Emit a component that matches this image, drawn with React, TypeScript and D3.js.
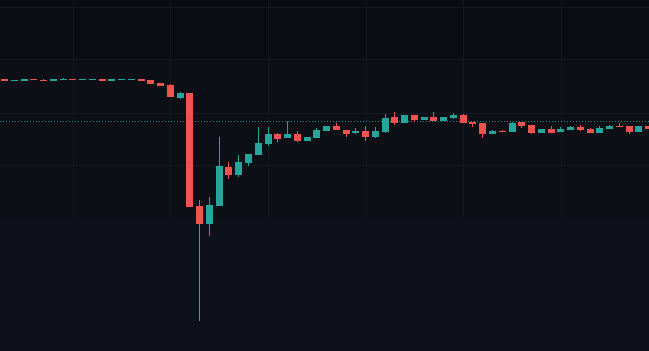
import React, { useEffect, useRef } from 'react';
import * as d3 from 'd3';

// OHLC, one entry per bar
const opens = [
  104.2, 104.0, 104.0, 104.2, 104.1, 104.0, 104.1, 104.2, 104.1, 104.1,
  104.2, 104.0, 104.1, 104.1, 104.2, 104.1, 103.8, 103.6, 102.3, 102.8,
  91.5, 89.7, 91.5, 95.4, 94.6, 95.8, 96.6, 97.7, 98.7, 98.3,
  98.7, 98.0, 98.3, 99.0, 99.5, 99.1, 98.8, 99.0, 98.4, 98.9,
  100.4, 99.8, 100.6, 100.1, 100.4, 100.0, 100.3, 100.6, 99.9, 99.8,
  98.7, 99.0, 98.9, 99.9, 99.6, 98.8, 99.2, 98.9, 99.1, 99.4,
  99.2, 98.8, 99.2, 99.5, 99.5, 98.9, 99.5,
];
const highs = [
  104.2, 104.1, 104.2, 104.2, 104.2, 104.2, 104.3, 104.2, 104.2, 104.2,
  104.2, 104.2, 104.2, 104.2, 104.2, 104.1, 103.8, 103.7, 102.9, 102.8,
  92.1, 92.4, 98.4, 95.9, 96.6, 96.7, 99.4, 99.4, 98.8, 100.0,
  99.0, 98.4, 99.3, 99.5, 99.8, 99.1, 99.3, 99.5, 99.4, 100.7,
  100.9, 100.6, 100.6, 100.4, 100.9, 100.4, 100.8, 100.7, 99.9, 99.8,
  99.1, 99.1, 99.9, 99.9, 99.6, 99.2, 99.5, 99.4, 99.5, 99.6,
  99.3, 99.5, 99.6, 99.8, 99.5, 99.5, 99.5,
];
const lows = [
  104.0, 104.0, 104.0, 104.1, 104.0, 104.0, 104.1, 104.1, 104.1, 104.1,
  104.0, 104.0, 104.1, 104.1, 104.0, 103.7, 103.5, 102.4, 102.2, 91.4,
  80.0, 88.5, 91.5, 94.2, 94.4, 95.5, 96.6, 97.5, 97.9, 98.3,
  97.9, 98.0, 98.3, 99.0, 99.1, 98.4, 98.7, 98.0, 98.3, 98.8,
  99.6, 99.8, 99.9, 100.1, 100.0, 100.0, 100.2, 99.8, 99.4, 98.3,
  98.7, 98.9, 98.9, 99.3, 98.7, 98.8, 98.8, 98.9, 99.1, 99.0,
  98.8, 98.8, 99.2, 99.4, 98.7, 98.9, 99.2,
];
const closes = [
  104.0, 104.1, 104.2, 104.1, 104.0, 104.2, 104.2, 104.1, 104.2, 104.2,
  104.0, 104.2, 104.2, 104.2, 104.0, 103.7, 103.5, 102.4, 102.8, 91.4,
  89.7, 91.6, 95.5, 94.6, 95.9, 96.7, 97.8, 98.7, 98.2, 98.7,
  98.0, 98.4, 99.1, 99.5, 99.1, 98.7, 99.0, 98.4, 99.0, 100.3,
  99.8, 100.6, 100.1, 100.4, 100.0, 100.4, 100.6, 99.8, 99.7, 98.7,
  99.0, 98.9, 99.8, 99.5, 98.8, 99.2, 98.8, 99.2, 99.4, 99.1,
  98.8, 99.3, 99.5, 99.4, 98.9, 99.5, 99.2,
];

const priceLine = 100.0;
const gridPrices = [111.4, 106.2, 100.8, 95.6];
const gridBars = [7, 17, 27, 37, 47, 57];

const UP = '#26a69a';
const DOWN = '#ef5350';

const CandleChart = () => {
  const svgRef = useRef<SVGSVGElement>(null);

  useEffect(() => {
    const svg = d3.select(svgRef.current);
    svg.selectAll('*').remove();

    const width = 649;
    const height = 351;
    const paneBottom = 217;

    const x = d3.scaleLinear()
      .domain([0, opens.length - 1])
      .range([4.5, 4.5 + 9.76 * (opens.length - 1)]);

    const y = d3.scaleLinear()
      .domain([80, 104.2])
      .range([321, 79]);

    // background bands
    svg.append('rect')
      .attr('width', width)
      .attr('height', height)
      .attr('fill', '#0e111a');
    svg.append('rect')
      .attr('width', width)
      .attr('height', paneBottom)
      .attr('fill', '#0c0f16');
    svg.append('rect')
      .attr('width', width)
      .attr('height', 59)
      .attr('fill', '#0a0c11');

    // grid
    const grid = svg.append('g')
      .attr('stroke', '#141820')
      .attr('stroke-width', 1);

    grid.selectAll('.hgrid')
      .data(gridPrices)
      .enter()
      .append('line')
      .attr('x1', 0)
      .attr('x2', width)
      .attr('y1', d => Math.round(y(d)) + 0.5)
      .attr('y2', d => Math.round(y(d)) + 0.5);

    grid.selectAll('.vgrid')
      .data(gridBars)
      .enter()
      .append('line')
      .attr('x1', d => Math.round(x(d)) + 0.5)
      .attr('x2', d => Math.round(x(d)) + 0.5)
      .attr('y1', 0)
      .attr('y2', paneBottom);

    // price line
    svg.append('line')
      .attr('x1', 0)
      .attr('x2', width)
      .attr('y1', Math.round(y(priceLine)) + 0.5)
      .attr('y2', Math.round(y(priceLine)) + 0.5)
      .attr('stroke', UP)
      .attr('stroke-opacity', 0.85)
      .attr('stroke-width', 1)
      .attr('stroke-dasharray', '1,2');

    const bars = d3.range(opens.length).map(i => ({
      i,
      o: opens[i],
      h: highs[i],
      l: lows[i],
      c: closes[i],
    }));

    const g = svg.append('g').attr('shape-rendering', 'crispEdges');

    const left = (d: any) => Math.round(x(d.i) - 3.5);

    // wicks
    g.selectAll('.wick')
      .data(bars)
      .enter()
      .append('rect')
      .attr('x', d => left(d) + 3)
      .attr('width', 1)
      .attr('y', d => Math.round(y(d.h)))
      .attr('height', d => Math.max(1, Math.round(y(d.l)) - Math.round(y(d.h))))
      .attr('fill', d => (d.c >= d.o ? UP : DOWN));

    // bodies
    g.selectAll('.body')
      .data(bars)
      .enter()
      .append('rect')
      .attr('x', d => left(d))
      .attr('width', 7)
      .attr('y', d => Math.round(y(Math.max(d.o, d.c))))
      .attr('height', d => Math.max(1, Math.round(y(Math.min(d.o, d.c))) - Math.round(y(Math.max(d.o, d.c)))))
      .attr('fill', d => (d.c >= d.o ? UP : DOWN));
  }, []);

  return (
    <svg
      ref={svgRef}
      width={649}
      height={351}
      style={{ position: 'fixed', left: 0, top: 0, display: 'block' }}
    />
  );
};

export default function App() {
  return <CandleChart />;
}
